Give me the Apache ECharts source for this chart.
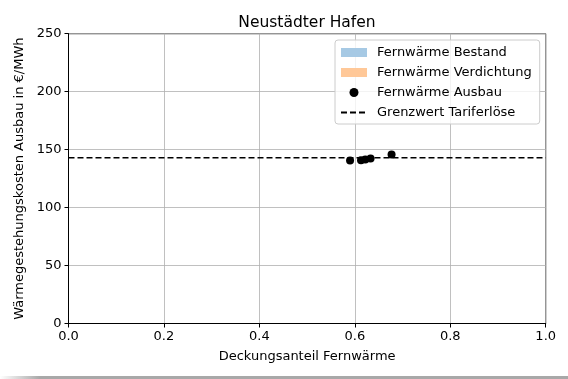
<!DOCTYPE html>
<html>
<head>
<meta charset="utf-8">
<script src="https://cdn.jsdelivr.net/npm/echarts@6/dist/echarts.min.js"></script>
<style>
html,body{margin:0;padding:0;background:#fff;}
#c{width:568px;height:379px;}
#shadow{position:absolute;left:0;top:376px;width:568px;height:3px;background:linear-gradient(to right,#fff 0px,#a8a8a8 40px,#a8a8a8 100%);}
</style>
</head>
<body>
<div id="c"></div>
<div id="shadow"></div>
<script>
const titleText = 'Neustädter Hafen';
const xName = 'Deckungsanteil Fernwärme';
const yName = 'Wärmegestehungskosten Ausbau in €/MWh';
const seriesNames = ['Fernwärme Bestand', 'Fernwärme Verdichtung', 'Fernwärme Ausbau', 'Grenzwert Tariferlöse'];
const bestand = [];
const verdichtung = [];
const ausbauX = [0.590, 0.613, 0.622, 0.633, 0.677];
const ausbauY = [140.6, 140.8, 141.4, 142.3, 145.8];
const grenzwert = 143;
const xRange = [0, 1];

const font = 'DejaVu Sans';
const chart = echarts.init(document.getElementById('c'), null, {renderer: 'canvas'});
chart.setOption({
  animation: false,
  backgroundColor: '#fff',
  textStyle: {fontFamily: font},
  title: {
    text: titleText, left: 302, top: 10, textAlign: 'center',
    textStyle: {fontFamily: font, fontSize: 15.5, fontWeight: 'normal', color: '#000'}
  },
  grid: {left: 68.5, right: 22.3, top: 33.7, bottom: 55.5, show: true, borderColor: '#000', borderWidth: 1, backgroundColor: 'transparent'},
  legend: {
    orient: 'vertical', left: 335, top: 40,
    backgroundColor: 'rgba(255,255,255,0.8)', borderColor: '#cccccc', borderWidth: 1, borderRadius: 3,
    padding: [5, 8, 4, 5], itemGap: 5, itemWidth: 26, itemHeight: 9,
    textStyle: {fontFamily: font, fontSize: 13, color: '#000', lineHeight: 15, padding: [0, 0, 0, 5]},
    data: [
      {name: seriesNames[0], icon: 'rect'},
      {name: seriesNames[1], icon: 'rect'},
      {name: seriesNames[2], icon: 'circle', itemStyle: {color: '#000', opacity: 1}},
      {name: seriesNames[3], itemStyle: {color: 'rgba(0,0,0,0)', borderColor: 'rgba(0,0,0,0)', borderWidth: 0}}
    ]
  },
  xAxis: {
    type: 'value', min: 0, max: 1, interval: 0.2,
    name: xName, nameLocation: 'middle', nameGap: 27,
    nameTextStyle: {fontFamily: font, fontSize: 13, color: '#000'},
    axisLine: {show: true, onZero: false, lineStyle: {color: '#000', width: 1}},
    axisTick: {show: true, length: 4, lineStyle: {color: '#000'}},
    axisLabel: {fontFamily: font, fontSize: 13, color: '#000', margin: 7, formatter: v => v.toFixed(1)},
    splitLine: {show: true, lineStyle: {color: '#b0b0b0', width: 0.8}}
  },
  yAxis: {
    type: 'value', min: 0, max: 250, interval: 50,
    name: yName, nameLocation: 'middle', nameGap: 41, nameRotate: 90,
    nameTextStyle: {fontFamily: font, fontSize: 13, color: '#000'},
    axisLine: {show: true, onZero: false, lineStyle: {color: '#000', width: 1}},
    axisTick: {show: true, length: 4, lineStyle: {color: '#000'}},
    axisLabel: {fontFamily: font, fontSize: 13, color: '#000', margin: 7},
    splitLine: {show: true, lineStyle: {color: '#b0b0b0', width: 0.8}}
  },
  series: [
    {name: seriesNames[0], type: 'bar', data: bestand, itemStyle: {color: '#a6c9e4'}},
    {name: seriesNames[1], type: 'bar', data: verdichtung, itemStyle: {color: '#ffc898'}},
    {name: seriesNames[2], type: 'scatter', symbol: 'circle', symbolSize: 8, z: 5,
      itemStyle: {color: '#000', opacity: 1},
      data: ausbauX.map((x, i) => [x, ausbauY[i]])},
    {name: seriesNames[3], type: 'line', showSymbol: false, symbol: 'none', z: 3,
      lineStyle: {color: '#000', width: 1.5, type: [6, 3]},
      itemStyle: {color: '#000'},
      data: xRange.map(x => [x, grenzwert])}
  ]
});
</script>
</body>
</html>
